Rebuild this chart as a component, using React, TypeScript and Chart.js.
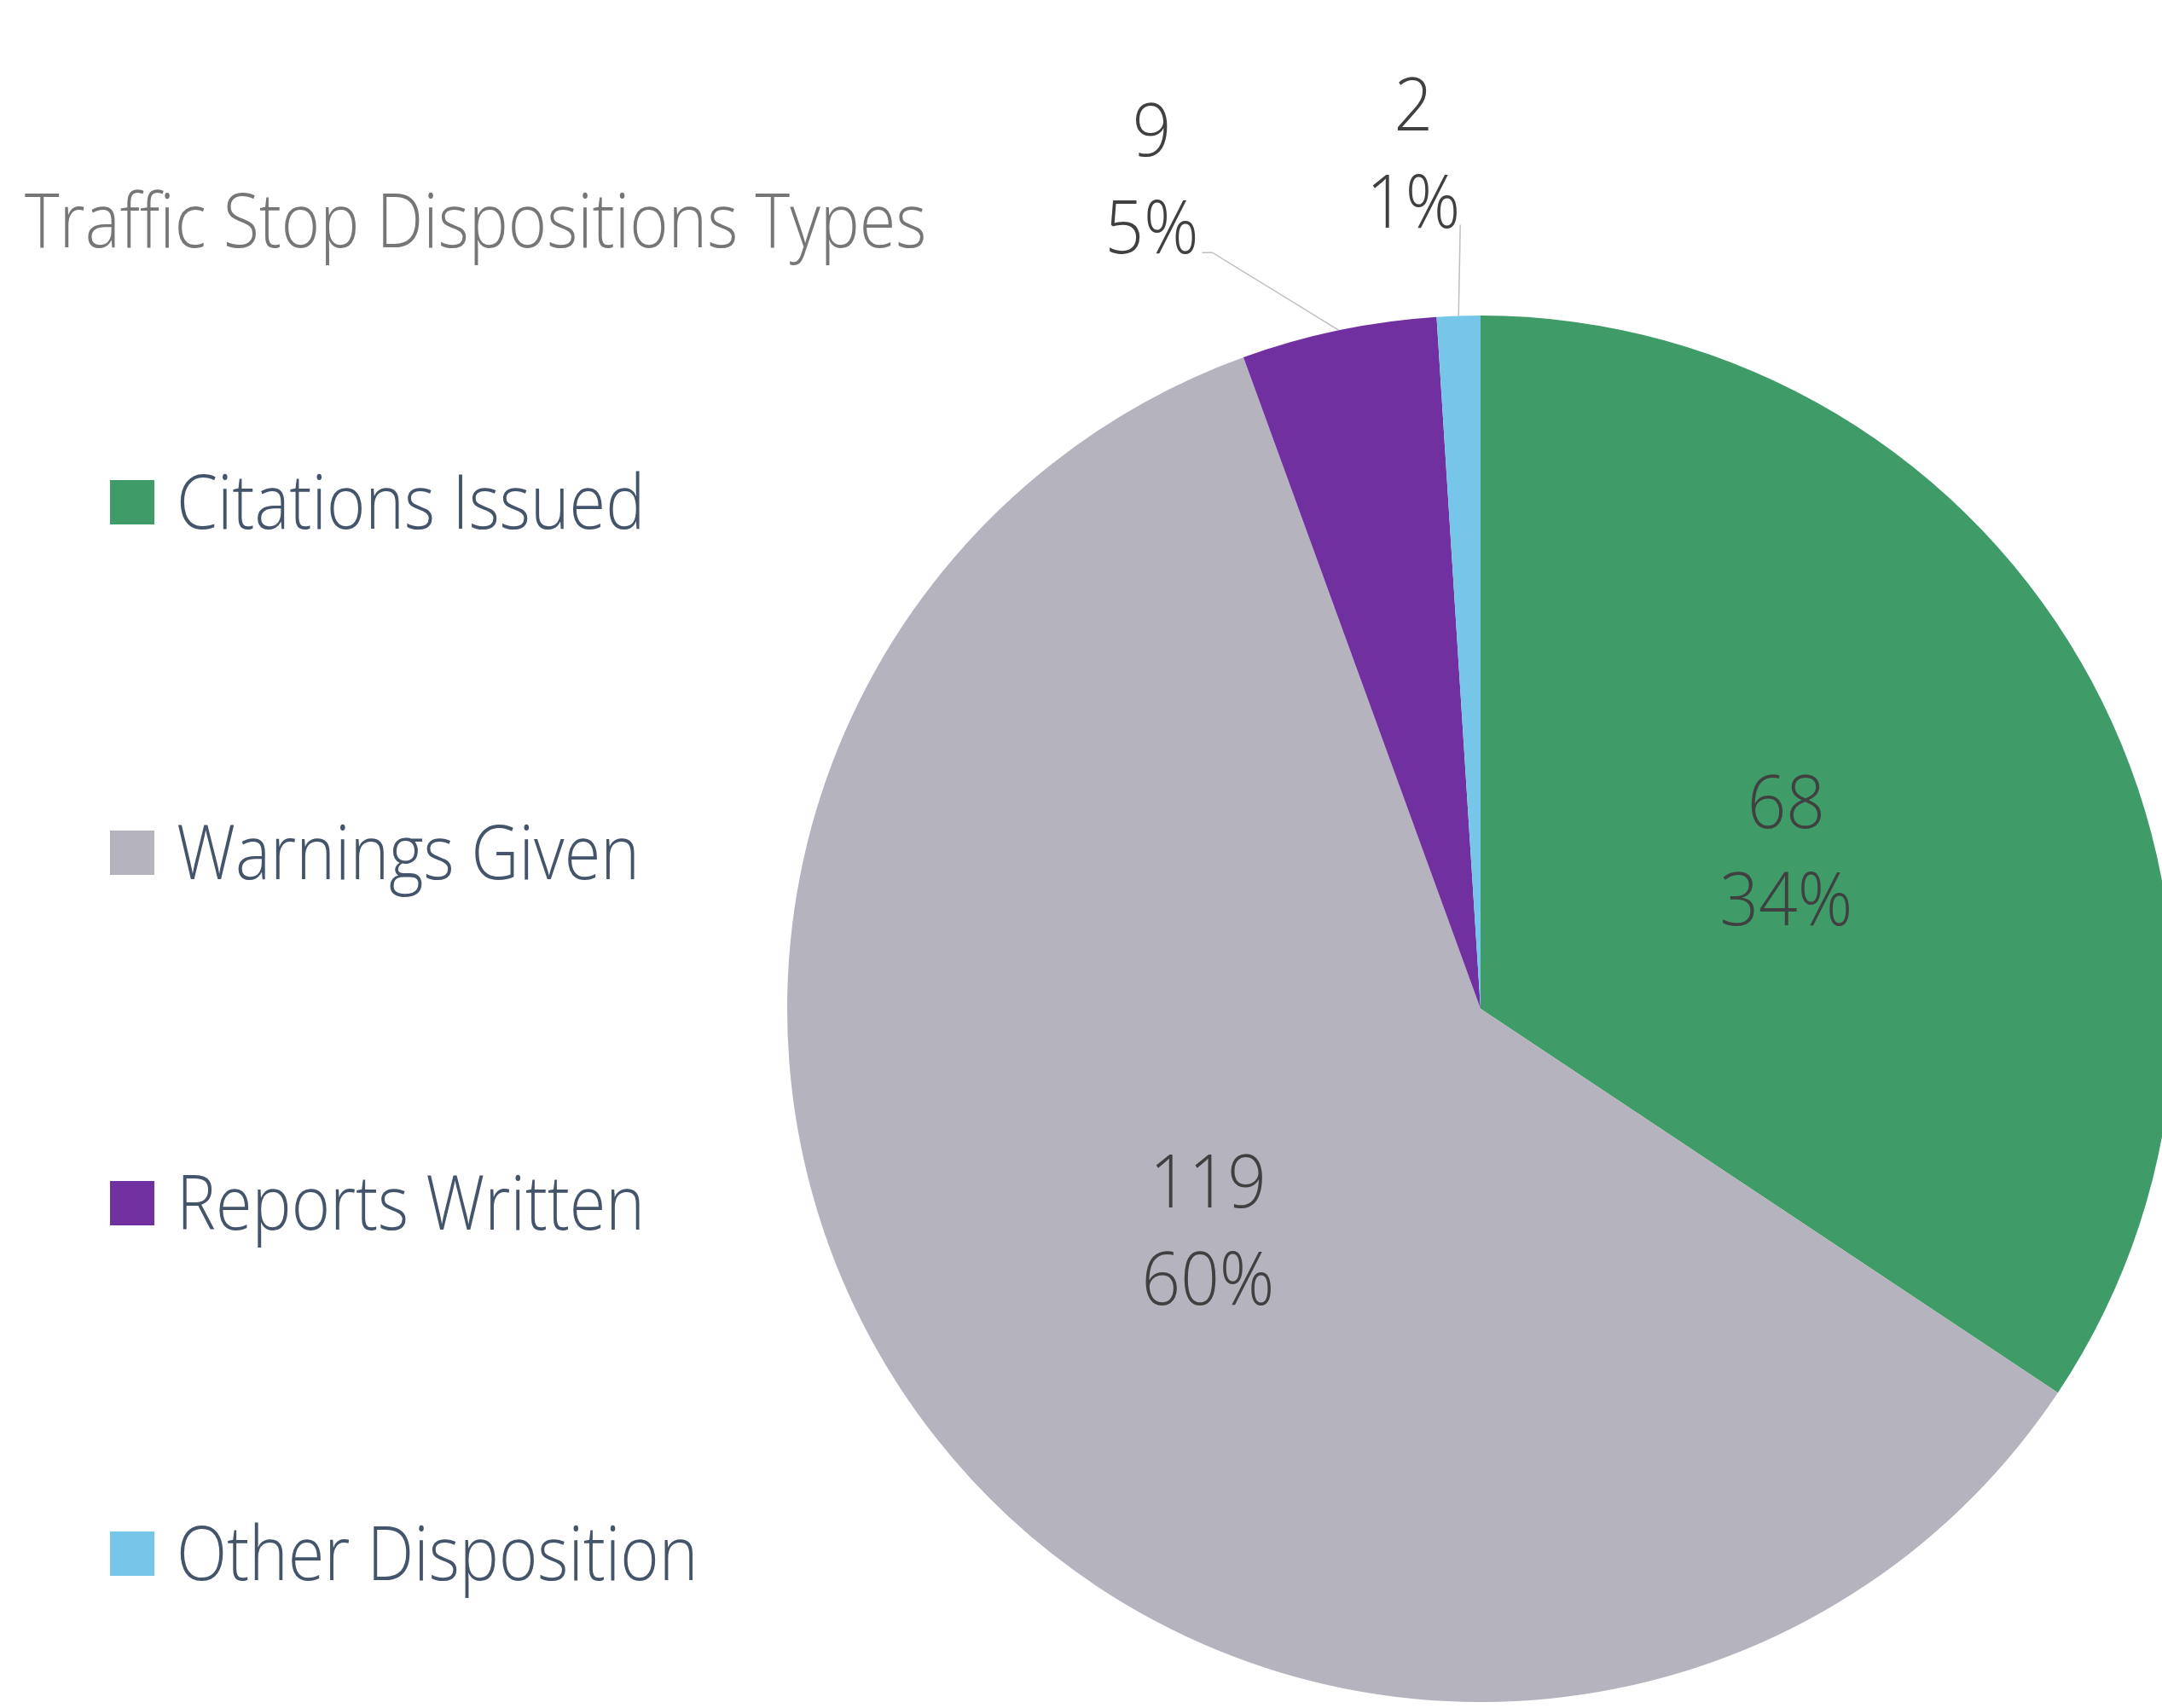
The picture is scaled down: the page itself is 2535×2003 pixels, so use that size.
import React, { useEffect, useRef } from "react";
import { Chart, registerables } from "chart.js";

Chart.register(...registerables);

const titleText = "Traffic Stop Dispositions Types";
const categories = ["Citations Issued", "Warnings Given", "Reports Written", "Other Disposition"];
const counts = [68, 119, 9, 2];
const sliceColors = ["#3F9B67", "#B5B3BE", "#7030A0", "#75C6E9"];

const FONT = "'Open Sans', 'Noto Sans', sans-serif";

// label placement styles (inside slice or outside with leader)
const labelStyles = [
  { mode: "inside", shift: 6 },
  { mode: "inside", shift: 8 },
  { mode: "outside", dx: -219, dy: -178, elbowDx: -148, elbowDy: -91, endDx: -160, endDy: -91 },
  { mode: "outside", dx: -53, dy: -191, elbowDx: 2, elbowDy: -107, endDx: 2, endDy: -107 },
];

function drawText(
  ctx: CanvasRenderingContext2D,
  text: string,
  x: number,
  y: number,
  align: CanvasTextAlign,
  sx: number
) {
  ctx.save();
  ctx.translate(x, y);
  ctx.scale(sx, 1);
  ctx.textAlign = align;
  ctx.textBaseline = "alphabetic";
  ctx.fillText(text, 0, 0);
  ctx.restore();
}

const overlayPlugin = {
  id: "overlay",
  afterDraw(chart: any) {
    const ctx = chart.ctx as CanvasRenderingContext2D;
    ctx.save();
    // title
    ctx.font = `300 88px ${FONT}`;
    ctx.fillStyle = "#767676";
    drawText(ctx, titleText, 29, 290, "left", 0.88);

    // legend
    categories.forEach((c, i) => {
      const cy = 589 + i * 411;
      ctx.fillStyle = sliceColors[i];
      ctx.fillRect(129, cy - 26, 52, 52);
      ctx.font = `300 88px ${FONT}`;
      ctx.fillStyle = "#44546A";
      drawText(ctx, c, 207, cy + 31, "left", 0.88);
    });

    // data labels
    const meta = chart.getDatasetMeta(0);
    const total = counts.reduce((a, b) => a + b, 0);
    ctx.font = `300 86px ${FONT}`;
    meta.data.forEach((arc: any, i: number) => {
      const pct = Math.round((counts[i] / total) * 100) + "%";
      const st: any = labelStyles[i];
      let cx: number, cy: number;
      if (st.mode === "inside") {
        const p = arc.tooltipPosition();
        cx = p.x;
        cy = p.y + st.shift;
      } else {
        const mid = (arc.startAngle + arc.endAngle) / 2;
        const ex = arc.x + Math.cos(mid) * arc.outerRadius;
        const ey = arc.y + Math.sin(mid) * arc.outerRadius;
        cx = ex + st.dx;
        cy = ey + st.dy;
        ctx.strokeStyle = "#BFBFBF";
        ctx.lineWidth = 1.5;
        ctx.beginPath();
        ctx.moveTo(ex, ey);
        ctx.lineTo(ex + st.elbowDx, ey + st.elbowDy);
        ctx.lineTo(ex + st.endDx, ey + st.endDy);
        ctx.stroke();
      }
      ctx.fillStyle = "#404040";
      drawText(ctx, String(counts[i]), cx, cy - 26, "center", 0.93);
      drawText(ctx, pct, cx, cy + 88, "center", 0.93);
    });
    ctx.restore();
  },
};

export default function App() {
  const ref = useRef<HTMLCanvasElement>(null);
  useEffect(() => {
    if (!ref.current) return;
    const chart = new Chart(ref.current, {
      type: "pie",
      data: {
        labels: categories,
        datasets: [
          {
            data: counts,
            backgroundColor: sliceColors,
            borderWidth: 0,
          },
        ],
      },
      options: {
        responsive: false,
        animation: false,
        devicePixelRatio: 1,
        layout: { padding: { left: 923, right: 51, top: 370, bottom: 7 } },
        plugins: {
          legend: { display: false },
          tooltip: { enabled: false },
          title: { display: false },
        },
      },
      plugins: [overlayPlugin],
    });
    return () => chart.destroy();
  }, []);
  return (
    <div
      style={{
        position: "fixed",
        left: 0,
        top: 0,
        width: 2535,
        height: 2003,
        overflow: "hidden",
        background: "#ffffff",
      }}
    >
      <canvas ref={ref} width={2600} height={2003} style={{ display: "block", width: 2600, height: 2003 }} />
    </div>
  );
}
